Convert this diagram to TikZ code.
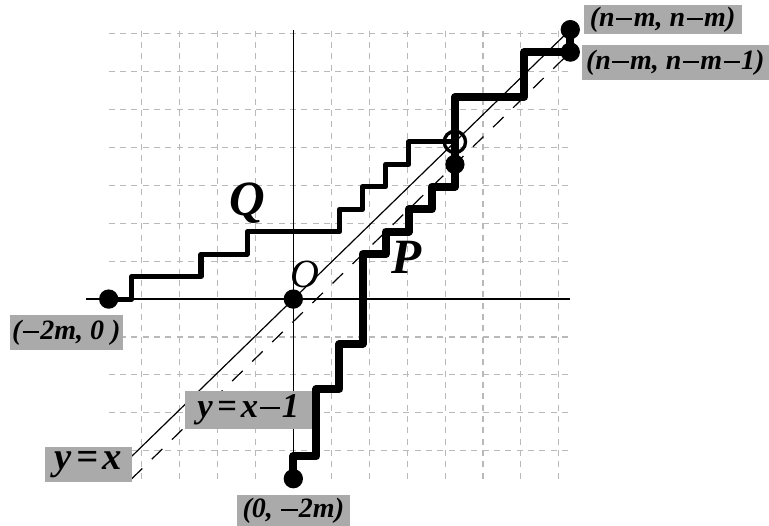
\documentclass[tikz,border=0pt]{standalone}
\usepackage{fontspec}
\setmainfont{Liberation Serif}
\definecolor{boxgray}{RGB}{170,170,170}
\definecolor{gridgray}{RGB}{185,185,185}
\newcommand{\ms}{\kern0.12em}
\newcommand{\mn}{\kern0.05em\rule[0.24em]{0.58em}{0.07em}\kern0.05em}
\begin{document}
\begin{tikzpicture}[x=17.31pt, y=16.84pt,
  gridline/.style={draw=gridgray, line width=0.8pt, dash pattern=on 4.5pt off 4pt},
  axisline/.style={line width=1.1pt},
  diagline/.style={line width=0.9pt},
  dashdiag/.style={line width=0.9pt, dash pattern=on 11pt off 10pt},
  ppath/.style={line width=6pt, line join=round},
  qpath/.style={line width=3.8pt, line join=round},
  dot/.style={circle, fill=black, inner sep=0pt, minimum size=14.5pt},
  ring/.style={circle, draw=black, line width=2.5pt, inner sep=0pt, minimum size=16pt},
  lab/.style={fill=boxgray, inner sep=0pt},
  biglet/.style={font=\fontsize{37}{40}\selectfont\bfseries\itshape, inner sep=0pt, anchor=base}
]
\useasboundingbox (-12.71,-10.07) rectangle (20.61,13.32);
% grid
\draw[gridline] (-8,-8) grid (12,12);
% axes
\coordinate (xl) at (-9,0);
\coordinate (xr) at (12,0);
\coordinate (yb) at (0,-8);
\coordinate (yt) at (0,12);
\draw[axisline] (xl) -- (xr);
\draw[axisline] (yb) -- (yt);
% diagonals
\coordinate (d0) at (-7,-7);
\coordinate (d1) at (12,12);
\coordinate (e0) at (-7,-8);
\coordinate (e1) at (12,11);
\draw[diagline] (d0) -- (d1);
\draw[dashdiag] (e0) -- (e1);
% dots
\node[dot] (A) at (-8,0) {};
\node[dot] (O) at (0,0) {};
\node[dot] (B) at (0,-8) {};
\node[dot] (C) at (7,6) {};
\node[ring] (R) at (7,7) {};
\node[dot] (E) at (12,11) {};
\node[dot] (F) at (12,12) {};
% P path
\draw[ppath] (B.center) -- (0,-7) -- (1,-7) -- (1,-4) -- (2,-4) -- (2,-2) -- (3,-2) -- (3,2) -- (4,2) -- (4,3) -- (5,3) -- (5,4) -- (6,4) -- (6,5) -- (7,5) -- (C.center);
\draw[ppath] (C.center) -- (R.center) -- (7,9) -- (10,9) -- (10,11) -- (E.center);
\draw[ppath] (E.center) -- (F.center);
% Q path
\draw[qpath] (A.center) -- (-7,0) -- (-7,1) -- (-4,1) -- (-4,2) -- (-2,2) -- (-2,3) -- (2,3) -- (2,4) -- (3,4) -- (3,5) -- (4,5) -- (4,6) -- (5,6) -- (5,7) -- (R.center);
% letters
\node[biglet] (Q) at (-2.0,3.74) {Q};
\node[biglet] (P) at (4.9,1.16) {P};
\node[font=\fontsize{30}{34}\selectfont\itshape, inner sep=0pt, anchor=base] (Olab) at (0.51,0.53) {O};
% labels
\node[lab, minimum width=118.5pt, minimum height=22pt, font=\fontsize{21}{24}\selectfont\bfseries\itshape] (L1) at (16.0,12.44) {(n\mn m, n\mn m)};
\node[lab, minimum width=140.5pt, minimum height=26.25pt, font=\fontsize{21}{24}\selectfont\bfseries\itshape] (L2) at (16.55,10.53) {(n\mn m, n\mn m\mn 1)};
\node[lab, minimum width=84.5pt, minimum height=26.25pt, font=\fontsize{21}{24}\selectfont\bfseries\itshape] (L3) at (-9.84,-1.49) {(\mn 2m, 0 )};
\node[lab, minimum width=95pt, minimum height=29pt, font=\fontsize{26}{30}\selectfont\bfseries\itshape] (L4) at (-1.95,-4.94) {y\ms=\ms x\mn 1};
\node[lab, minimum width=65pt, minimum height=26.25pt, font=\fontsize{29}{32}\selectfont\bfseries\itshape] (L5) at (-8.88,-7.36) {y\ms=\ms x};
\node[lab, minimum width=85pt, minimum height=24pt, font=\fontsize{21}{24}\selectfont\bfseries\itshape] (L6) at (0,-9.44) {(0, \mn 2m)};
\end{tikzpicture}
\end{document}
